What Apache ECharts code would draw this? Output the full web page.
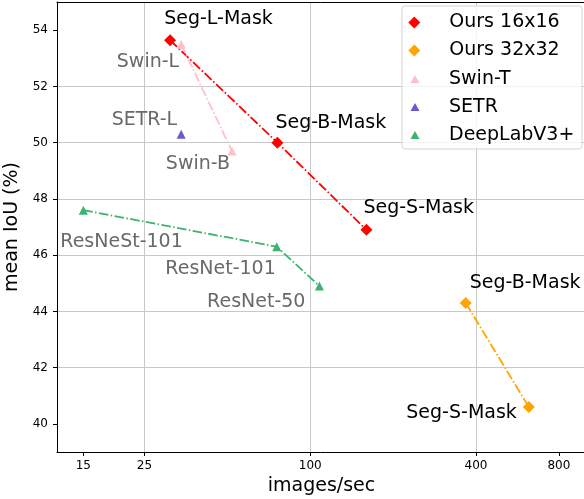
<!DOCTYPE html>
<html>
<head>
<meta charset="utf-8">
<script src="https://cdn.jsdelivr.net/npm/echarts@6/dist/echarts.min.js"></script>
<style>
html, body { margin: 0; padding: 0; background: #fff; }
#chart { width: 584px; height: 499px; }
</style>
</head>
<body>
<div id="chart"></div>
<script>
// tick labels
const xTicks = [15, 25, 100, 400, 800];
const yTicks = [40, 42, 44, 46, 48, 50, 52, 54];

// Ours 16x16
const ours16Names = ['Seg-L-Mask', 'Seg-B-Mask', 'Seg-S-Mask'];
const ours16Speed = [31, 76, 160];
const ours16Miou = [53.64, 50.0, 46.9];

// Ours 32x32
const ours32Names = ['Seg-B-Mask', 'Seg-S-Mask'];
const ours32Speed = [367, 622];
const ours32Miou = [44.3, 40.6];

// Swin-T
const swinNames = ['Swin-L', 'Swin-B'];
const swinSpeed = [34, 52];
const swinMiou = [53.5, 49.7];

// SETR
const setrNames = ['SETR-L'];
const setrSpeed = [34];
const setrMiou = [50.3];

// DeepLabV3+
const deeplabNames = ['ResNeSt-101', 'ResNet-101', 'ResNet-50'];
const deeplabSpeed = [15, 75.6, 108];
const deeplabMiou = [47.6, 46.3, 44.9];

// where each annotation sits next to its point: [align, dx, dy]
const ours16Place = [['left', -6, -21], ['left', -2, -20], ['left', -3, -22]];
const ours32Place = [['left', 4, -20], ['right', -12, 6]];
const swinPlace = [['right', -2, 18], ['right', -2, 13]];
const setrPlace = [['right', -4, -14]];
const deeplabPlace = [['left', -23, 32], ['right', -1, 22], ['right', -14, 16]];

const FONT = 'DejaVu Sans';
const dashDot = [9.6, 2.4, 1.5, 2.4];
const X_MIN = 1.0806, X_MAX = 3.0014;   // log10 of the speed range

function makeSeries(name, names, speed, miou, place, color, symbol, size, labelColor) {
    return {
        name: name,
        type: 'line',
        data: names.map((n, i) => ({
            name: n,
            value: [Math.log10(speed[i]), miou[i]],
            label: { align: place[i][0], offset: [place[i][1], place[i][2]] }
        })),
        symbol: symbol,
        symbolSize: size,
        showAllSymbol: true,
        itemStyle: { color: color, opacity: 1 },
        lineStyle: { color: color, width: 1.8, type: dashDot },
        label: {
            show: true,
            position: 'inside',
            verticalAlign: 'middle',
            formatter: p => p.name,
            color: labelColor,
            fontSize: 19,
            fontFamily: FONT,
            textBorderWidth: 0
        },
        emphasis: { disabled: true },
        z: 3
    };
}

const chart = echarts.init(document.getElementById('chart'));

chart.setOption({
    animation: false,
    grid: {
        left: 57, right: -2, top: 2, bottom: 47,
        containLabel: false,
        outerBoundsMode: 'none',
        show: false
    },
    xAxis: [{
        type: 'value',
        min: X_MIN,
        max: X_MAX,
        name: 'images/sec',
        nameLocation: 'middle',
        nameGap: 25,
        nameTextStyle: { fontSize: 19, color: '#000', fontFamily: FONT },
        axisLine: { show: true, onZero: false, lineStyle: { color: '#000', width: 1 } },
        axisTick: {
            show: true, length: 4,
            customValues: xTicks.map(Math.log10),
            lineStyle: { color: '#000' }
        },
        axisLabel: {
            customValues: xTicks.map(Math.log10),
            formatter: v => String(Math.round(Math.pow(10, v))),
            fontSize: 12, color: '#000', fontFamily: FONT, margin: 8
        },
        splitLine: {
            show: true, showMinLine: false, showMaxLine: false,
            lineStyle: { color: '#c8c8c8', width: 1 }
        }
    }, {
        // top spine only
        type: 'value',
        position: 'top',
        min: X_MIN,
        max: X_MAX,
        axisLine: { show: true, onZero: false, lineStyle: { color: '#000', width: 1 } },
        axisTick: { show: false },
        axisLabel: { show: false },
        splitLine: { show: false }
    }],
    yAxis: {
        type: 'value',
        min: 39,
        max: 55,
        name: 'mean IoU (%)',
        nameLocation: 'middle',
        nameGap: 30,
        nameTextStyle: { fontSize: 19, color: '#000', fontFamily: FONT },
        axisLine: { show: true, onZero: false, lineStyle: { color: '#000', width: 1 } },
        axisTick: {
            show: true, length: 4,
            customValues: yTicks,
            lineStyle: { color: '#000' }
        },
        axisLabel: {
            customValues: yTicks,
            fontSize: 12, color: '#000', fontFamily: FONT, margin: 9
        },
        splitLine: {
            show: true, showMinLine: false, showMaxLine: false,
            lineStyle: { color: '#c8c8c8', width: 1 }
        }
    },
    graphic: [{
        type: 'rect',
        z: 10,
        shape: { x: 402, y: 6, width: 180, height: 143, r: 3 },
        style: { fill: 'rgba(255,255,255,0.8)', stroke: '#d5d5d5', lineWidth: 1 }
    }],
    legend: [{
        orient: 'vertical',
        left: 408.3, top: 13,
        padding: 0,
        z: 11,
        itemWidth: 12, itemHeight: 12,
        itemGap: 9,
        data: [
            { name: 'Ours 16x16', icon: 'diamond' },
            { name: 'Ours 32x32', icon: 'diamond' }
        ],
        textStyle: { fontSize: 19, lineHeight: 19, color: '#000', fontFamily: FONT, padding: [0, 0, 0, 24] },
        selectedMode: false
    }, {
        orient: 'vertical',
        left: 410.5, top: 69.5,
        padding: 0,
        z: 11,
        itemWidth: 9, itemHeight: 8,
        itemGap: 9,
        data: [
            { name: 'Swin-T', icon: 'triangle' },
            { name: 'SETR', icon: 'triangle' },
            { name: 'DeepLabV3+', icon: 'triangle' }
        ],
        textStyle: { fontSize: 19, lineHeight: 19, color: '#000', fontFamily: FONT, padding: [0, 0, 0, 24.5] },
        selectedMode: false
    }],
    series: [
        makeSeries('Ours 16x16', ours16Names, ours16Speed, ours16Miou, ours16Place, '#ff0000', 'diamond', 12, '#000'),
        makeSeries('Ours 32x32', ours32Names, ours32Speed, ours32Miou, ours32Place, '#ffa500', 'diamond', 12, '#000'),
        makeSeries('Swin-T', swinNames, swinSpeed, swinMiou, swinPlace, '#ffc0cb', 'triangle', 9, '#696969'),
        makeSeries('SETR', setrNames, setrSpeed, setrMiou, setrPlace, '#6a5acd', 'triangle', 9, '#696969'),
        makeSeries('DeepLabV3+', deeplabNames, deeplabSpeed, deeplabMiou, deeplabPlace, '#3cb371', 'triangle', 9, '#696969')
    ]
});
</script>
</body>
</html>
